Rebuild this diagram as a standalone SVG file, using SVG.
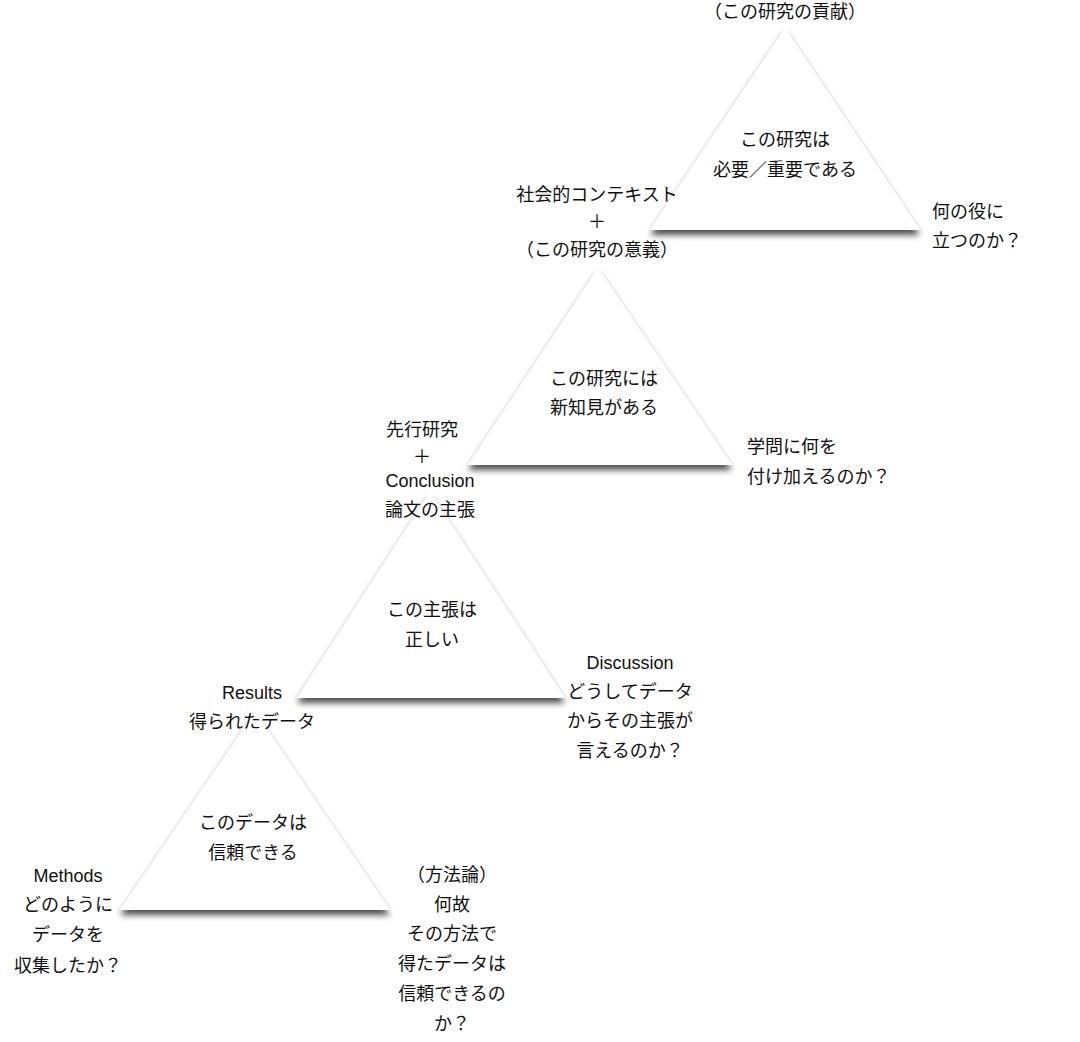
<svg xmlns="http://www.w3.org/2000/svg" width="1080" height="1042" viewBox="0 0 1080 1042">
<defs>
<filter id="sh" x="-20%" y="-20%" width="140%" height="150%">
<feGaussianBlur in="SourceAlpha" stdDeviation="3"/>
<feOffset dx="0" dy="5"/>
<feComponentTransfer><feFuncA type="linear" slope="0.7"/></feComponentTransfer>
<feMerge><feMergeNode/><feMergeNode in="SourceGraphic"/></feMerge>
</filter>
</defs>
<style>
.tri{fill:#fff;filter:url(#sh)}
text{font-family:"Liberation Sans","Noto Sans CJK JP",sans-serif;font-size:18px;fill:#111;text-anchor:middle;dominant-baseline:central}
.l{text-anchor:start}
</style>
<rect width="1080" height="1042" fill="#fff"/>
<g id="t1"><polygon class="tri" points="785,28 650,230 920,230"/>
<text x="785" y="140">この研究は</text><text x="785" y="170">必要／重要である</text></g>
<g id="t2"><polygon class="tri" points="598,268 468,465 732,465"/>
<text x="604" y="379">この研究には</text><text x="604" y="408">新知見がある</text></g>
<g id="t3"><polygon class="tri" points="430,492 297,698 565,698"/>
<text x="432" y="610">この主張は</text><text x="432" y="640">正しい</text></g>
<g id="t4"><polygon class="tri" points="255,712 120,910 390,910"/>
<text x="253" y="823">このデータは</text><text x="253" y="853">信頼できる</text></g>
<g id="connectors"></g>
<g id="labels">
<text x="785" y="12">（この研究の貢献）</text>
<text x="597" y="195">社会的コンテキスト</text><text x="597" y="222">＋</text><text x="597" y="250">（この研究の意義）</text>
<text class="l" x="932" y="212">何の役に</text><text class="l" x="932" y="241">立つのか？</text>
<text x="422" y="430">先行研究</text><text x="422" y="457">＋</text><text x="430" y="481">Conclusion</text><text x="430" y="510">論文の主張</text>
<text class="l" x="747" y="447">学問に何を</text><text class="l" x="747" y="477">付け加えるのか？</text>
<text x="630" y="663">Discussion</text><text x="630" y="692">どうしてデータ</text><text x="630" y="721">からその主張が</text><text x="630" y="751">言えるのか？</text>
<text x="252" y="693">Results</text><text x="252" y="722">得られたデータ</text>
<text x="68" y="876">Methods</text><text x="68" y="905">どのように</text><text x="68" y="935">データを</text><text x="68" y="966">収集したか？</text>
<text x="452" y="875">（方法論）</text><text x="452" y="905">何故</text><text x="452" y="934">その方法で</text><text x="452" y="964">得たデータは</text><text x="452" y="994">信頼できるの</text><text x="452" y="1024">か？</text>
</g>
</svg>
